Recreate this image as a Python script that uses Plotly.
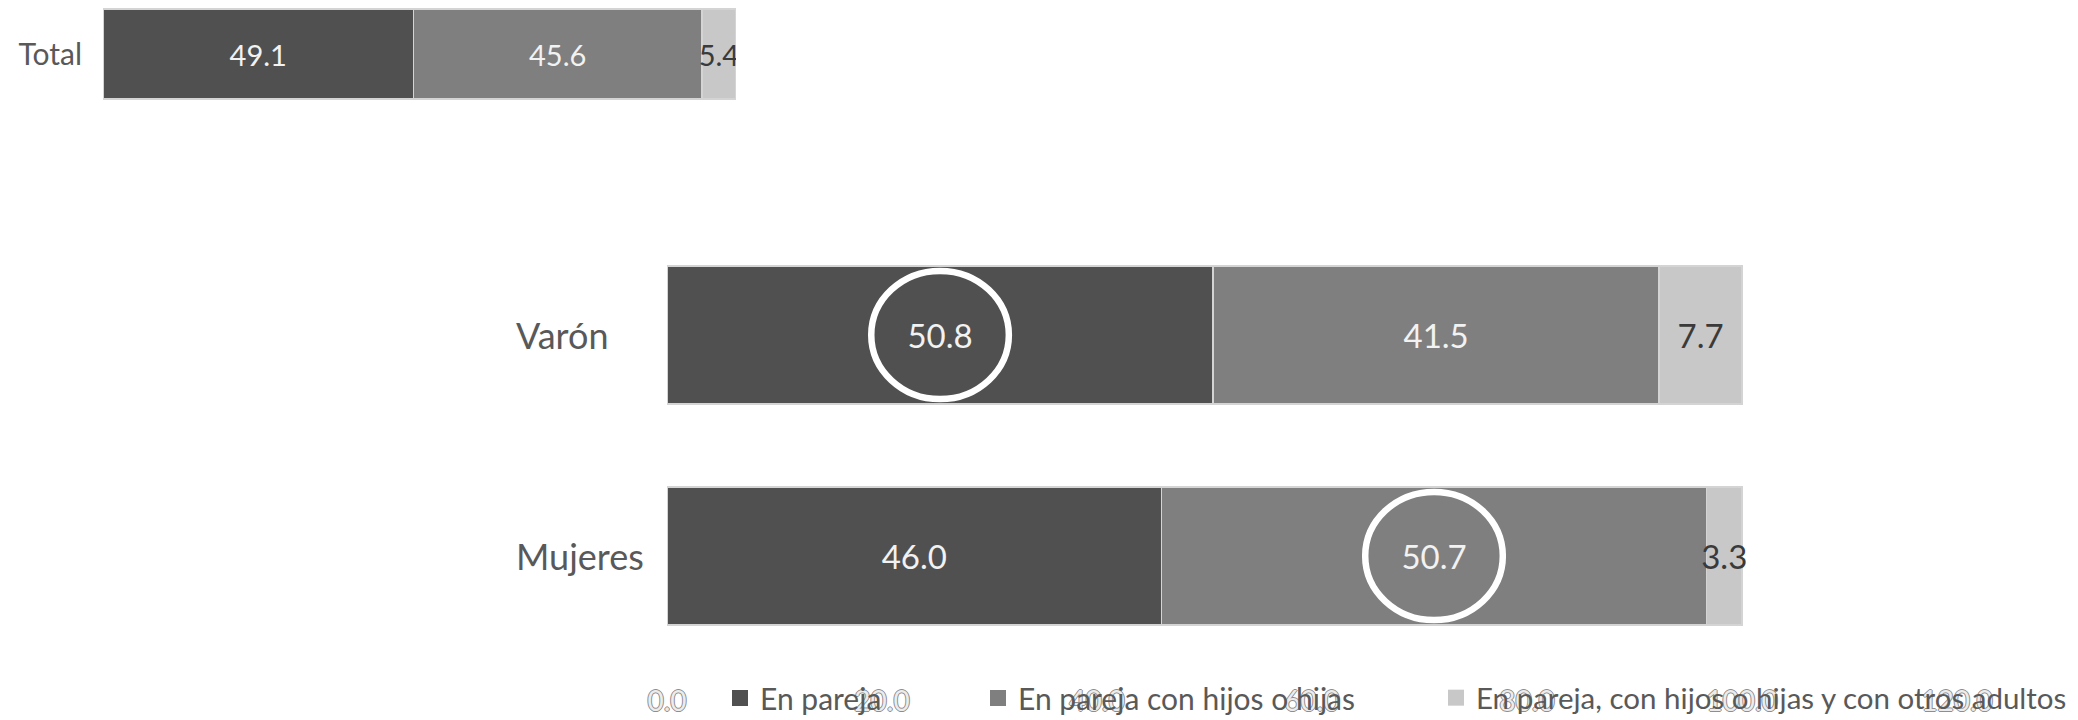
import plotly.graph_objects as go

# ---------------- data ----------------
series_names = ["En pareja", "En pareja con hijos o hijas",
                "En pareja, con hijos o hijas y con otros adultos"]
total_label = ["Total"]
total_values = [49.1, 45.6, 5.4]
groups = ["Mujeres", "Varón"]           # bottom to top
en_pareja = [46.0, 50.8]
con_hijos = [50.7, 41.5]
con_otros = [3.3, 7.7]
x_ticks = [0, 20, 40, 60, 80, 100, 120]
highlight_segment = {"Varón": 0, "Mujeres": 1}   # circled segment per group

colors = ["#505050", "#7f7f7f", "#c8c8c8"]
text_colors = ["#f2f2f2", "#f2f2f2", "#3a3a3a"]
FONT = "Lato"
W, H = 2078, 720

fig = go.Figure()

# ---- top small chart (Total) ----
for i, name in enumerate(series_names):
    fig.add_trace(go.Bar(
        y=total_label, x=[total_values[i]], orientation="h", name=name,
        marker=dict(color=colors[i], line=dict(color="#d4d4d4", width=1.5)),
        width=[0.83],
        text=[f"{total_values[i]:.1f}"], textposition="inside",
        insidetextanchor="middle", textangle=0, constraintext="none",
        textfont=dict(family=FONT, size=29, color=text_colors[i]),
        xaxis="x2", yaxis="y2", showlegend=False, hoverinfo="skip"))

# ---- main chart ----
main_series = [en_pareja, con_hijos, con_otros]
legend_ids = ["legend", "legend2", "legend3"]
for i, name in enumerate(series_names):
    vals = main_series[i]
    fig.add_trace(go.Bar(
        y=groups, x=vals, orientation="h", name=name,
        marker=dict(color=colors[i], line=dict(color="#d4d4d4", width=1.5)),
        width=[0.624] * len(groups),
        text=[f"{v:.1f}" for v in vals], textposition="inside",
        insidetextanchor="middle", textangle=0, constraintext="none",
        textfont=dict(family=FONT, size=33, color=text_colors[i]),
        xaxis="x", yaxis="y", showlegend=False, hoverinfo="skip"))
    # legend entry with a larger square swatch
    fig.add_trace(go.Scatter(
        x=[None], y=[None], mode="markers", name=name,
        marker=dict(symbol="square", size=16, color=colors[i],
                    line=dict(width=0)),
        xaxis="x", yaxis="y", legend=legend_ids[i], hoverinfo="skip"))

# circles around highlighted values
for gi, g in enumerate(groups):
    seg = highlight_segment[g]
    start = sum(main_series[k][gi] for k in range(seg))
    cx = start + main_series[seg][gi] / 2
    fig.add_shape(type="circle", xref="x", yref="y",
                  x0=cx - 6.4, x1=cx + 6.4, y0=gi - 0.29, y1=gi + 0.29,
                  line=dict(color="white", width=6.5))

# category labels (left aligned)
for gi, g in enumerate(groups):
    fig.add_annotation(text=g, xref="paper", yref="y", x=514 / W, y=gi,
                       xanchor="left", yanchor="middle", showarrow=False,
                       font=dict(family=FONT, size=36, color="#595959"))

oc = "#8e8e8e"
outline = f"1px 0 {oc}, -1px 0 {oc}, 0 1px {oc}, 0 -1px {oc}"

legend_common = dict(orientation="h", yanchor="middle", xanchor="left",
                     y=1 - 698 / H, bgcolor="rgba(0,0,0,0)",
                     font=dict(family=FONT, size=30, color="#595959"))

fig.update_layout(
    width=W, height=H,
    margin=dict(l=0, r=0, t=0, b=0, autoexpand=False),
    paper_bgcolor="white", plot_bgcolor="white",
    barmode="stack",
    font=dict(family=FONT, color="#595959"),
    xaxis=dict(domain=[667 / W, 1957 / W], range=[0, 120], automargin=False,
               tickvals=x_ticks, ticktext=[f"{t:.1f}" for t in x_ticks],
               showgrid=False, zeroline=False, showline=False,
               ticks="outside", ticklen=10, tickcolor="rgba(0,0,0,0)",
               tickfont=dict(family=FONT, size=28, color="#ececec",
                             shadow=outline),
               fixedrange=True),
    yaxis=dict(domain=[1 - 666.5 / H, 1 - 224.5 / H], automargin=False,
               categoryorder="array", categoryarray=groups,
               range=[-0.5, 1.5], showticklabels=False,
               showgrid=False, zeroline=False, showline=False),
    xaxis2=dict(domain=[103 / W, 736 / W], range=[0, 100.1],
                anchor="y2", visible=False, automargin=False),
    yaxis2=dict(domain=[1 - 108 / H, 1], range=[-0.5, 0.5], anchor="x2",
                automargin=False,
                showgrid=False, zeroline=False, showline=False,
                ticks="outside", ticklen=14, tickcolor="rgba(0,0,0,0)",
                tickfont=dict(family=FONT, size=30, color="#595959")),
    legend=dict(x=(760 - 40) / W, **legend_common),
    legend2=dict(x=(1018 - 40) / W, **legend_common),
    legend3=dict(x=(1476 - 40) / W, **{**legend_common,
                 "font": dict(family=FONT, size=29.5, color="#595959")}),
)

fig.write_html(
    "out.html",
    config={"displayModeBar": False},
    post_script="document.body.style.margin='0';"
                "document.body.style.overflow='hidden';")
